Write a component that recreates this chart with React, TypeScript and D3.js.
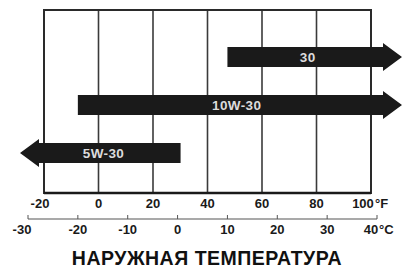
import * as d3 from "d3";

// Fahrenheit grid
const fTicks = [-20, 0, 20, 40, 60, 80, 100];
// Celsius scale ticks
const cTicks = [-30, -20, -10, 0, 10, 20, 30, 40];

// oil grades: range in °C, dir = side the arrow keeps going
const grades = ["30", "10W-30", "5W-30"];
const gradeFrom = [10, -20, -30];
const gradeTo = [40, 40, 0];
const gradeDir = ["right", "right", "left"];

const W = 409;
const H = 271;
const FRAME = { left: 44, right: 371, top: 10, bottom: 193 };

const App = () => {
  const xF = d3.scaleLinear().domain([-20, 100]).range([FRAME.left, FRAME.right]);
  const xC = d3.scaleLinear().domain([-30, 40]).range([28, 377]);
  const yBand = d3
    .scaleBand()
    .domain(grades)
    .range([47, 163])
    .paddingInner(28 / 48)
    .paddingOuter(0);

  const font = "'Liberation Sans', Arial, sans-serif";
  const ink = "#1a1a1a";

  const arrowPath = (i: number) => {
    const g = grades[i];
    const y0 = yBand(g)!;
    const h = yBand.bandwidth();
    const y1 = y0 + h;
    const ym = y0 + h / 2;
    const flare = 4;
    const head = 19;
    if (gradeDir[i] === "right") {
      const xs = xC(gradeFrom[i]);
      const xe = W - 7 - head; // head base
      return `M${xs},${y0}H${xe}V${y0 - flare}L${xe + head},${ym}L${xe},${y1 + flare}V${y1}H${xs}Z`;
    }
    const xe = xC(gradeTo[i]) + 3;
    const xs = 20 + head;
    return `M${xe},${y0}H${xs}V${y0 - flare}L${xs - head},${ym}L${xs},${y1 + flare}V${y1}H${xe}Z`;
  };

  const labelX = (i: number) => {
    if (gradeDir[i] === "right") {
      const a = xC(gradeFrom[i]);
      return grades[i] === "30" ? a + (W - 7 - a) * 0.46 : a + (W - 7 - a) * 0.49;
    }
    const b = xC(gradeTo[i]);
    return 20 + (b - 20) * 0.53;
  };

  return (
    <svg width={W} height={H} style={{ position: "absolute", left: 0, top: 0, background: "#fff" }}>
      {/* grid verticals */}
      {fTicks.slice(1, -1).map((t) => (
        <line key={t} x1={xF(t)} x2={xF(t)} y1={FRAME.top} y2={FRAME.bottom} stroke="#3a3a3a" strokeWidth={1.6} />
      ))}
      <rect
        x={FRAME.left}
        y={FRAME.top}
        width={FRAME.right - FRAME.left}
        height={FRAME.bottom - FRAME.top}
        fill="none"
        stroke="#2a2a2a"
        strokeWidth={2}
      />
      <line x1={FRAME.left} x2={FRAME.right} y1={FRAME.bottom} y2={FRAME.bottom} stroke="#1a1a1a" strokeWidth={2.5} />

      {/* arrows */}
      {grades.map((g, i) => (
        <g key={g}>
          <path d={arrowPath(i)} fill={ink} />
          <text
            x={labelX(i)}
            y={yBand(g)! + yBand.bandwidth() / 2 + 5}
            textAnchor="middle"
            fontFamily={font}
            fontWeight="bold"
            fontSize={13.5}
            letterSpacing={0.4}
            fill="#dcdcdc"
          >
            {g}
          </text>
        </g>
      ))}

      {/* Fahrenheit labels */}
      {fTicks.map((t, i) => (
        <text
          key={t}
          x={i === fTicks.length - 1 ? xF(t) - 8 : i === 0 ? xF(t) - 4 : xF(t)}
          y={208}
          textAnchor="middle"
          fontFamily={font}
          fontWeight="bold"
          fontSize={13}
          fill={ink}
        >
          {t}
        </text>
      ))}
      <text x={xF(100) + 4} y={208} fontFamily={font} fontWeight="bold" fontSize={13} fill={ink}>
        °F
      </text>

      {/* Celsius scale */}
      <line x1={xC(-30)} x2={xC(40)} y1={219} y2={219} stroke="#555" strokeWidth={1.2} />
      {cTicks.map((t) => (
        <line key={t} x1={xC(t)} x2={xC(t)} y1={219} y2={215} stroke="#555" strokeWidth={1} />
      ))}
      {cTicks.map((t, i) => (
        <text
          key={t}
          x={i === cTicks.length - 1 ? xC(t) - 6 : i === 0 ? xC(t) - 6 : xC(t)}
          y={234}
          textAnchor="middle"
          fontFamily={font}
          fontWeight="bold"
          fontSize={13}
          fill={ink}
        >
          {t}
        </text>
      ))}
      <text x={xC(40) + 2} y={234} fontFamily={font} fontWeight="bold" fontSize={13} fill={ink}>
        °C
      </text>

      <text
        x={207}
        y={265}
        textAnchor="middle"
        fontFamily={font}
        fontWeight="bold"
        fontSize={19.5}
        letterSpacing={0.5}
        fill="#111"
      >
        НАРУЖНАЯ ТЕМПЕРАТУРА
      </text>
    </svg>
  );
};

export default App;
